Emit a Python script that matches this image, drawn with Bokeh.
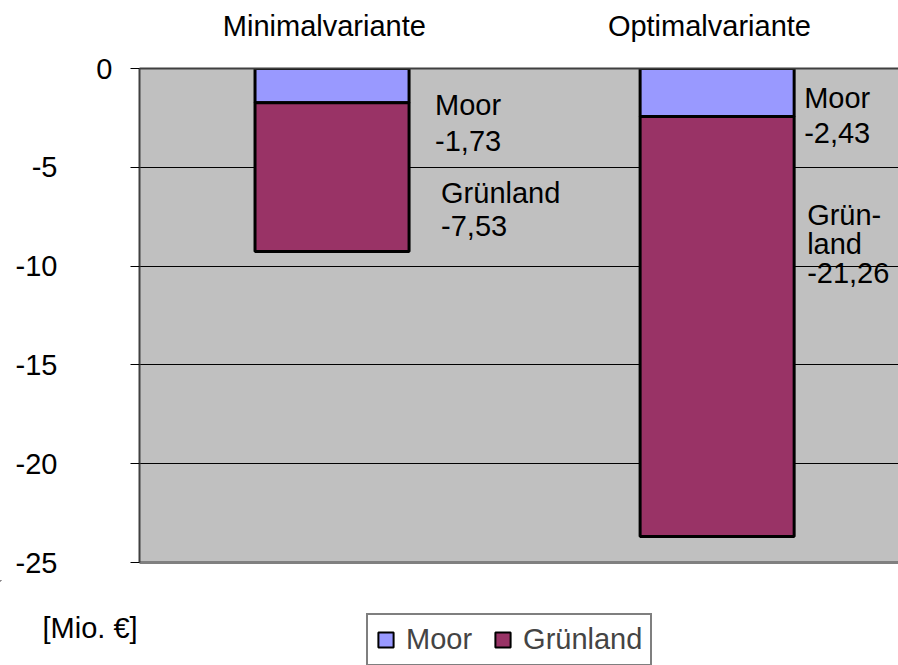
import numpy as np
from bokeh.plotting import figure
from bokeh.layouts import column
from bokeh.models import (ColumnDataSource, Range1d, FixedTicker, LinearAxis,
                          Legend, LegendItem)
from bokeh.core.properties import value
from bokeh.embed import file_html
from bokeh.resources import INLINE

# ---- data ----
categories = ["Minimalvariante", "Optimalvariante"]
series_names = ["Moor", "Grünland"]
moor = [-1.73, -2.43]
gruenland = [-7.53, -21.26]
label_names_moor = ["Moor", "Moor"]
label_names_gruen = ["Grünland", "Grün-\nland"]
y_ticks = [0, -5, -10, -15, -20, -25]
y_tick_labels = ["0", "-5", "-10", "-15", "-20", "-25"]
unit_label = "[Mio. €]"

# ---- style ----
FONT = "Liberation Sans"
FS = "29px"
C_MOOR = "#9999FF"
C_GRUEN = "#993366"
BAR_W = 0.4
CAT_SHIFT = 0.02
TOP_H = 580
BOT_H = 85

x = np.arange(len(categories)) + 0.5
moor_a = np.array(moor)
gr_a = np.array(gruenland)
moor_top = np.zeros_like(moor_a)
moor_bot = moor_top + moor_a
gr_top = moor_bot
gr_bot = gr_top + gr_a

p = figure(width=898, height=TOP_H, frame_width=759, frame_height=494,
           x_range=Range1d(0, 1.971), y_range=Range1d(-25, 0),
           output_backend="svg", toolbar_location=None,
           min_border_left=139, min_border_right=0, min_border_top=68,
           min_border_bottom=TOP_H - 68 - 494,
           x_axis_location=None, y_axis_location=None)
p.background_fill_color = "#C0C0C0"
p.border_fill_color = "white"
p.outline_line_color = None

# grid
p.ygrid.ticker = FixedTicker(ticks=y_ticks)
p.ygrid.grid_line_color = "black"
p.ygrid.grid_line_width = 1
p.xgrid.grid_line_color = None

# inner left axis: ticks + the "0" label next to the axis
yax_in = LinearAxis(ticker=FixedTicker(ticks=y_ticks),
                    major_label_overrides={t: (l if t == 0 else "") for t, l in zip(y_ticks, y_tick_labels)},
                    major_tick_out=9, major_tick_in=0, minor_tick_line_color=None,
                    major_tick_line_color="black", axis_line_color="#404040", axis_line_width=2,
                    major_label_standoff=18, major_label_text_font=FONT,
                    major_label_text_font_size=FS, major_label_text_color="black")
p.add_layout(yax_in, "left")

# outer left axis: the remaining tick labels further out
yax_out = LinearAxis(ticker=FixedTicker(ticks=y_ticks),
                     major_label_overrides={t: ("" if t == 0 else l) for t, l in zip(y_ticks, y_tick_labels)},
                     major_tick_out=0, major_tick_in=0, minor_tick_line_color=None,
                     axis_line_color=None, major_label_standoff=36,
                     major_label_text_font=FONT, major_label_text_font_size=FS,
                     major_label_text_color="black")
p.add_layout(yax_out, "left")

# bottom axis line
xax_b = LinearAxis(ticker=FixedTicker(ticks=[]), major_tick_out=0, major_tick_in=0,
                   minor_tick_line_color=None, axis_line_color="#808080", axis_line_width=3,
                   major_label_text_font_size="0px", major_label_standoff=0)
p.add_layout(xax_b, "below")

# top axis with category labels
cat_pos = [float(v) for v in (x - CAT_SHIFT)]
xax_t = LinearAxis(ticker=FixedTicker(ticks=cat_pos),
                   major_label_overrides={cp: c for cp, c in zip(cat_pos, categories)},
                   major_tick_out=0, major_tick_in=0, minor_tick_line_color=None,
                   axis_line_color="#404040", axis_line_width=2,
                   major_label_text_font=FONT, major_label_text_font_size=FS,
                   major_label_text_color="black", major_label_standoff=27)
p.add_layout(xax_t, "above")

# bars
p.vbar(x=x, width=BAR_W, top=moor_top, bottom=moor_bot,
       fill_color=C_MOOR, line_color="black", line_width=3)
p.vbar(x=x, width=BAR_W, top=gr_top, bottom=gr_bot,
       fill_color=C_GRUEN, line_color="black", line_width=3)

# data labels
fmt = lambda v: f"{v:.2f}".replace(".", ",")
lab_src = ColumnDataSource(dict(
    x=list(x + BAR_W / 2) * 2,
    y=list(moor_top) + list(gr_top),
    text=[f"{n}\n{fmt(v)}" for n, v in zip(label_names_moor, moor)] +
         [f"{n}\n{fmt(v)}" for n, v in zip(label_names_gruen, gruenland)],
    xo=[26, 10, 32, 13],
    yo=[20, 13, 74, 82],
    lh=[1.15, 1.12, 1.05, 0.92],
))
text_kw = dict(x="x", y="y", text="text", source=lab_src, x_offset="xo", y_offset="yo",
               text_font=value(FONT), text_font_size=FS, text_color="black",
               text_align="left", text_baseline="top")
try:
    p.text(text_line_height="lh", **text_kw)
except Exception:
    p.text(text_line_height=1.1, **text_kw)

# ---- bottom strip: unit label and legend (coordinates = page pixels) ----
q = figure(width=898, height=BOT_H, x_range=Range1d(0, 898), y_range=Range1d(BOT_H, 0),
           output_backend="svg", toolbar_location=None,
           min_border_left=0, min_border_right=0, min_border_top=0, min_border_bottom=0,
           x_axis_location=None, y_axis_location=None)
q.outline_line_color = None
q.xgrid.grid_line_color = None
q.ygrid.grid_line_color = None
q.background_fill_color = "white"
q.border_fill_color = "white"

for fig in (p, q):
    if "frame_align" in fig.properties():
        fig.frame_align = False

q.text(x=[42], y=[627 - TOP_H], text=[unit_label], text_font=value(FONT), text_font_size=FS,
       text_color="black", text_align="left", text_baseline="middle")

# legend proxies (kept far outside the visible range, only their swatches are shown)
k_moor = q.vbar(x=[-100000], top=[-100000], bottom=[-99999], width=1, fill_color=C_MOOR,
                line_color="black", line_width=2)
k_gr = q.vbar(x=[-100000], top=[-100000], bottom=[-99999], width=1, fill_color=C_GRUEN,
              line_color="black", line_width=2)

LEG_H = 52
legend = Legend(items=[LegendItem(label=series_names[0], renderers=[k_moor]),
                       LegendItem(label=series_names[1], renderers=[k_gr])],
                orientation="horizontal", location=(366, BOT_H - (614 - TOP_H) - LEG_H),
                label_text_font=FONT, label_text_font_size=FS,
                glyph_width=19, glyph_height=19, label_standoff=11, spacing=21,
                padding=8, margin=0,
                border_line_color="black", border_line_width=2,
                background_fill_color="white", background_fill_alpha=1)
q.add_layout(legend, "center")

layout = column(p, q, spacing=0)
open("out.html", "w").write(file_html(layout, INLINE))
